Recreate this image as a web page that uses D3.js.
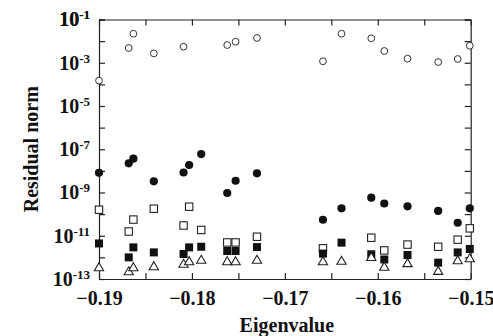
<!DOCTYPE html>
<html>
<head>
<meta charset="utf-8">
<script src="https://cdn.jsdelivr.net/npm/d3@7"></script>
<style>
    body { margin: 0; background: #fff; }
    svg text { font-family: "Liberation Serif", "Times New Roman", serif; font-weight: bold; fill: #111; }
</style>
</head>
<body>
<div id="chart"></div>
<script>
    // eigenvalues (one column per eigenvalue, null = no marker for that series)
    var eigenvalues = [-0.19, -0.1868, -0.1863, -0.1841, -0.1809, -0.1803, -0.1790, -0.1762, -0.1753,
        -0.1730, -0.1659, -0.1639, -0.1607, -0.1593, -0.1568, -0.1535, -0.1514, -0.1501];

    // residual norms per series
    var openCircles = [1.5e-4, 4.8e-3, 2.2e-2, 2.7e-3, 5.5e-3, null, null, 6.6e-3, 9.4e-3,
        1.4e-2, 1.17e-3, 2.2e-2, 1.35e-2, 3.5e-3, 1.54e-3, 1.08e-3, 1.49e-3, 6.1e-3];
    var filledCircles = [8.2e-9, 2.24e-8, 3.65e-8, 3.3e-9, 8.4e-9, 1.87e-8, 6.0e-8, 9.5e-10, 3.5e-9,
        7.7e-9, 5.5e-11, 1.86e-10, 5.75e-10, 3.1e-10, 2.3e-10, 1.4e-10, 4.0e-11, 1.86e-10];
    var openSquares = [1.6e-10, 1.57e-11, 5.6e-11, 1.78e-10, 2.98e-11, 2.2e-10, 1.85e-11, 4.9e-12, 4.9e-12,
        9.0e-12, 2.63e-12, null, 8.1e-12, 2.1e-12, 3.9e-12, 3.1e-12, 6.6e-12, 2.2e-11];
    var filledSquares = [4.4e-12, 1.0e-12, 2.9e-12, 1.7e-12, 1.43e-12, 2.9e-12, 3.1e-12, 1.97e-12, 1.97e-12,
        3.0e-12, 1.5e-12, 4.8e-12, 1.39e-12, 8.0e-13, 1.29e-12, 5.7e-13, 1.7e-12, 2.44e-12];
    var triangles = [3.7e-13, 2.4e-13, 3.7e-13, 4.1e-13, 5.3e-13, 7.0e-13, 8.1e-13, 7.0e-13, 7.0e-13,
        8.1e-13, 7.0e-13, 7.3e-13, 1.1e-12, 3.9e-13, 5.7e-13, 2.5e-13, 7.8e-13, 9.5e-13];

    // tick labels
    var xTickLabels = [-0.19, -0.18, -0.17, -0.16, -0.15];
    var yTickExponents = [-1, -3, -5, -7, -9, -11, -13];

    var margin = { top: 19.5, right: 22.3, bottom: 57, left: 99 },
        width = 493 - margin.left - margin.right,
        height = 336 - margin.top - margin.bottom;

    var svg = d3.select("#chart")
        .append("svg")
        .attr("width", 493)
        .attr("height", 336)
        .append("g")
        .attr("transform", "translate(" + margin.left + "," + margin.top + ")");

    var x = d3.scaleLinear().domain([-0.19, -0.15]).range([0, width]);
    var y = d3.scaleLog().domain([1e-13, 1e-1]).range([height, 0]);

    // minor ticks every 0.005, every decade
    var xTicks = d3.range(0, 9).map(function (i) { return -0.19 + i * 0.005; });
    var yTicks = d3.range(-13, 0).map(function (e) { return Math.pow(10, e); });

    function isLabelX(v) {
        return xTickLabels.some(function (t) { return Math.abs(t - v) < 1e-9; });
    }

    // bottom axis
    svg.append("g")
        .attr("transform", "translate(0," + height + ")")
        .call(d3.axisBottom(x).tickValues(xTicks).tickSizeInner(-6).tickSizeOuter(0).tickPadding(12)
            .tickFormat(function (d) { return isLabelX(d) ? d3.format(".2f")(d) : ""; }))
        .call(function (g) { g.selectAll("text").attr("font-size", 20).attr("fill", "#111"); });

    // top axis
    svg.append("g")
        .call(d3.axisTop(x).tickValues(xTicks).tickSizeInner(-6).tickSizeOuter(0).tickFormat(""));

    // left axis with 10^n labels
    var yLeft = svg.append("g")
        .call(d3.axisLeft(y).tickValues(yTicks.concat([1e-1])).tickSizeInner(-6).tickSizeOuter(0)
            .tickPadding(9).tickFormat(""));
    yLeft.selectAll(".tick text")
        .attr("font-size", 20)
        .attr("fill", "#111")
        .each(function (d) {
            var e = Math.round(Math.log10(d));
            if (yTickExponents.indexOf(e) < 0) return;
            var t = d3.select(this);
            t.append("tspan").text("10");
            t.append("tspan").attr("font-size", 13).attr("dy", "-0.55em").text(e);
        });

    // right axis
    svg.append("g")
        .attr("transform", "translate(" + width + ",0)")
        .call(d3.axisRight(y).tickValues(yTicks.concat([1e-1])).tickSizeInner(-6).tickSizeOuter(0).tickFormat(""));

    svg.selectAll(".domain, .tick line").attr("stroke", "#222").attr("stroke-width", 1.2);

    // axis titles
    svg.append("text")
        .attr("x", width / 2 + 2)
        .attr("y", height + 53)
        .attr("text-anchor", "middle")
        .attr("font-size", 20)
        .text("Eigenvalue");

    svg.append("text")
        .attr("transform", "translate(" + (38 - margin.left) + "," + (height / 2) + ")rotate(-90)")
        .attr("text-anchor", "middle")
        .attr("font-size", 20)
        .text("Residual norm");

    function points(values) {
        return eigenvalues.map(function (e, i) { return { e: e, v: values[i] }; })
            .filter(function (d) { return d.v != null; });
    }

    // open circles
    svg.selectAll("circle.open")
        .data(points(openCircles))
        .enter().append("circle")
        .attr("class", "open")
        .attr("cx", function (d) { return x(d.e); })
        .attr("cy", function (d) { return y(d.v); })
        .attr("r", 3.4)
        .attr("fill", "#fff")
        .attr("stroke", "#333")
        .attr("stroke-width", 1);

    // filled circles
    svg.selectAll("circle.filled")
        .data(points(filledCircles))
        .enter().append("circle")
        .attr("class", "filled")
        .attr("cx", function (d) { return x(d.e); })
        .attr("cy", function (d) { return y(d.v); })
        .attr("r", 4.1)
        .attr("fill", "#111");

    // open squares
    svg.selectAll("rect.open")
        .data(points(openSquares))
        .enter().append("rect")
        .attr("class", "open")
        .attr("x", function (d) { return x(d.e) - 3.7; })
        .attr("y", function (d) { return y(d.v) - 3.7; })
        .attr("width", 7.4)
        .attr("height", 7.4)
        .attr("fill", "#fff")
        .attr("stroke", "#222")
        .attr("stroke-width", 1.1);

    // filled squares
    svg.selectAll("rect.filled")
        .data(points(filledSquares))
        .enter().append("rect")
        .attr("class", "filled")
        .attr("x", function (d) { return x(d.e) - 4; })
        .attr("y", function (d) { return y(d.v) - 4; })
        .attr("width", 8)
        .attr("height", 8)
        .attr("fill", "#111");

    // open triangles
    svg.selectAll("path.tri")
        .data(points(triangles))
        .enter().append("path")
        .attr("class", "tri")
        .attr("d", d3.symbol(d3.symbolTriangle, 37))
        .attr("transform", function (d) { return "translate(" + x(d.e) + "," + (y(d.v) + 1.3) + ")"; })
        .attr("fill", "#fff")
        .attr("stroke", "#222")
        .attr("stroke-width", 1.1);
</script>
</body>
</html>
